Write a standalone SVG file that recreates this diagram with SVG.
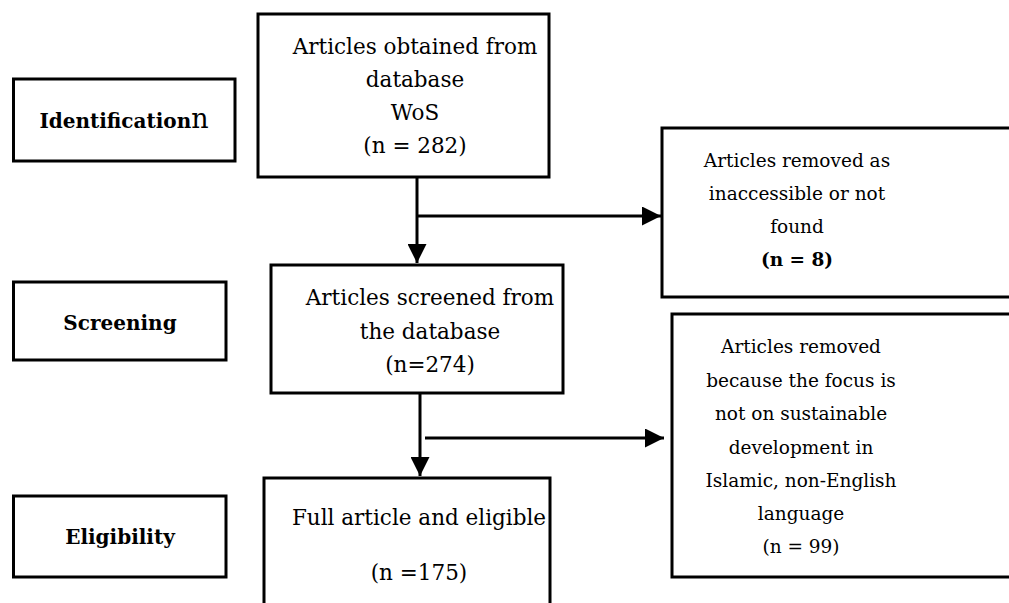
<svg xmlns="http://www.w3.org/2000/svg" width="1009" height="603" viewBox="0 0 1009 603">
<style>
.box{fill:#fff;stroke:#000;stroke-width:3}
.t{font-family:"DejaVu Serif","Liberation Serif",serif;font-size:21.5px;fill:#000;text-anchor:middle}
.s{font-family:"DejaVu Serif","Liberation Serif",serif;font-size:18.5px;fill:#000;text-anchor:middle}
.b{font-family:"DejaVu Serif","Liberation Serif",serif;font-size:20px;font-weight:bold;fill:#000;text-anchor:middle}
.c{fill:none;stroke:#000;stroke-width:3}
</style>
<defs>
<marker id="ah" markerUnits="userSpaceOnUse" markerWidth="19" markerHeight="19" refX="19" refY="9.5" orient="auto" viewBox="0 0 19 19">
<path d="M0,0 L19,9.5 L0,19 z" fill="#000"/>
</marker>
</defs>
<rect width="1009" height="603" fill="#fff"/>
<g id="identification">
<rect class="box" x="13.5" y="79" width="221.5" height="82"/>
<text class="b" x="124" y="128">Identification<tspan font-weight="normal" font-size="27px">n</tspan></text>
</g>
<g id="screening">
<rect class="box" x="13.5" y="282" width="212.5" height="78"/>
<text class="b" x="120" y="330">Screening</text>
</g>
<g id="eligibility">
<rect class="box" x="13.5" y="496" width="212.5" height="81"/>
<text class="b" x="120" y="544">Eligibility</text>
</g>
<g id="obtained">
<rect class="box" x="258" y="14" width="291" height="163"/>
<text class="t" x="415"><tspan x="415" y="54">Articles obtained from</tspan><tspan x="415" y="87">database</tspan><tspan x="415" y="120">WoS</tspan><tspan x="415" y="153">(n = 282)</tspan></text>
</g>
<g id="screened">
<rect class="box" x="271" y="265" width="292" height="128"/>
<text class="t" x="430"><tspan x="430" y="305">Articles screened from</tspan><tspan x="430" y="339">the database</tspan><tspan x="430" y="372">(n=274)</tspan></text>
</g>
<g id="full">
<rect class="box" x="264" y="478" width="286" height="140"/>
<text class="t" x="419"><tspan x="419" y="525">Full article and eligible</tspan><tspan x="419" y="580">(n =175)</tspan></text>
</g>
<g id="removed1">
<rect class="box" x="662" y="128" width="360" height="169"/>
<text class="s" x="797"><tspan x="797" y="167">Articles removed as</tspan><tspan x="797" y="200">inaccessible or not</tspan><tspan x="797" y="233">found</tspan><tspan x="797" y="266" font-weight="bold">(n = 8)</tspan></text>
</g>
<g id="removed2">
<rect class="box" x="672" y="314" width="350" height="263"/>
<text class="s" x="801"><tspan x="801" y="353">Articles removed</tspan><tspan x="801" y="387">because the focus is</tspan><tspan x="801" y="420">not on sustainable</tspan><tspan x="801" y="454">development in</tspan><tspan x="801" y="487">Islamic, non-English</tspan><tspan x="801" y="520">language</tspan><tspan x="801" y="553">(n = 99)</tspan></text>
</g>
<g id="connectors">
<line class="c" x1="417" y1="177" x2="417" y2="263" marker-end="url(#ah)"/>
<line class="c" x1="417" y1="216" x2="661" y2="216" marker-end="url(#ah)"/>
<line class="c" x1="420" y1="393" x2="420" y2="476" marker-end="url(#ah)"/>
<line class="c" x1="425" y1="438" x2="664" y2="438" marker-end="url(#ah)"/>
</g>
</svg>
